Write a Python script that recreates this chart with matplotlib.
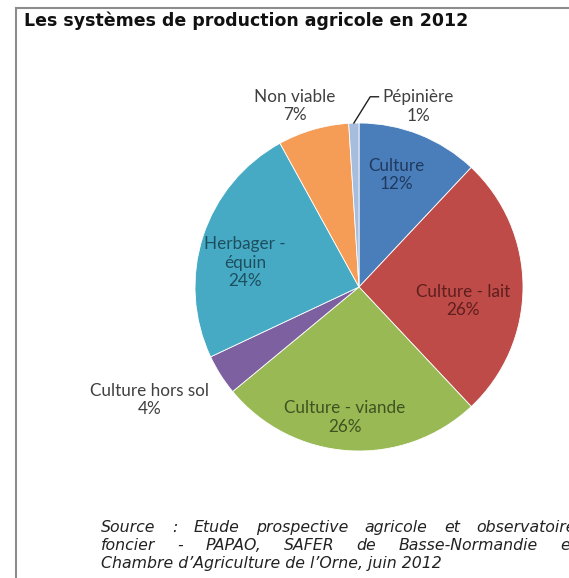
#!/usr/bin/env python3
"""Pie chart: agricultural production systems in 2012."""

import matplotlib

matplotlib.use("Agg")
import matplotlib.pyplot as plt
import numpy as np
from matplotlib.lines import Line2D

CATEGORIES = [
    "Culture",
    "Culture - lait",
    "Culture - viande",
    "Culture hors sol",
    "Herbager -\néquin",
    "Non viable",
    "Pépinière",
]
SHARES = [12, 26, 26, 4, 24, 7, 1]

COLORS = ["#4A7EBB", "#BE4B48", "#98B954", "#7D60A0", "#46AAC5", "#F59D56", "#A6BDDD"]
TEXT_COLORS = ["#1F3A5F", "#5E1F1D", "#3F5320", "#404040", "#1E4F5E", "#404040", "#404040"]
# label placement: radius (in pie radii) and angular offset from slice middle (deg)
LABEL_R = [0.72, 0.64, 0.80, 1.45, 0.71, 1.17, 1.16]
LABEL_DANG = [3.3, -7.7, -2.5, -4, 6, 3.3, -20]

SOURCE_LINES = [
    "Source : Etude prospective agricole et observatoire",
    "foncier - PAPAO, SAFER de Basse-Normandie et",
    "Chambre d\u2019Agriculture de l\u2019Orne, juin 2012",
]

W, H = 569, 578
fig = plt.figure(figsize=(W / 100, H / 100), dpi=100)
fig.patch.set_facecolor("white")

# grey frame (top and left edges)
frame = dict(color="#8C8C8C", linewidth=1.5, transform=fig.transFigure)
fig.add_artist(Line2D([16 / W, 1.0], [1 - 8 / H, 1 - 8 / H], **frame))
fig.add_artist(Line2D([16 / W, 16 / W], [0.0, 1 - 8 / H], **frame))

fig.text(24 / W, 1 - 21 / H, "Les systèmes de production agricole en 2012",
         fontsize=12.5, fontweight="bold", color="#111111", va="center", ha="left",
         family="DejaVu Sans")

cx, cy, r = 359, 287, 164
ax = fig.add_axes([(cx - r) / W, (H - cy - r) / H, 2 * r / W, 2 * r / H])

wedges, _ = ax.pie(SHARES, colors=COLORS, startangle=90, counterclock=False,
                   radius=1.0, wedgeprops=dict(linewidth=0.6, edgecolor="white"))
ax.set_xlim(-1, 1)
ax.set_ylim(-1, 1)
ax.set_aspect("equal")
ax.axis("off")

total = sum(SHARES)
for i, (w, name, val) in enumerate(zip(wedges, CATEGORIES, SHARES)):
    mid = 0.5 * (w.theta1 + w.theta2) + LABEL_DANG[i]
    rad = np.deg2rad(mid)
    x, y = LABEL_R[i] * np.cos(rad), LABEL_R[i] * np.sin(rad)
    ax.text(x, y, f"{name}\n{round(100 * val / total)}%", ha="center", va="center",
            fontsize=12.3, color=TEXT_COLORS[i], family="Lato", linespacing=1.2,
            clip_on=False)

# leader line for the tiny slice
w = wedges[-1]
mid = np.deg2rad(0.5 * (w.theta1 + w.theta2))
x0, y0 = np.cos(mid), np.sin(mid)
ax.plot([x0, x0 + 0.1, x0 + 0.15], [y0, 1.16, 1.16], color="#202020",
        linewidth=1.0, clip_on=False)

# justified source note
renderer = fig.canvas.get_renderer()
x_left, x_right = 101, 576
for k, line in enumerate(SOURCE_LINES):
    ybase = 532 + 18 * k
    words = line.split(" ")
    style = dict(fontsize=11.3, style="italic", color="#222222", va="baseline",
                 ha="left", family="DejaVu Sans")
    if k == len(SOURCE_LINES) - 1:
        fig.text(x_left / W, 1 - ybase / H, line, **style)
        continue
    texts = [fig.text(0, 1 - ybase / H, wd, **style) for wd in words]
    widths = [t.get_window_extent(renderer).width for t in texts]
    gap = (x_right - x_left - sum(widths)) / (len(words) - 1)
    xpos = x_left
    for t, wdt in zip(texts, widths):
        t.set_x(xpos / W)
        xpos += wdt + gap

fig.savefig("out.png", dpi=100)
